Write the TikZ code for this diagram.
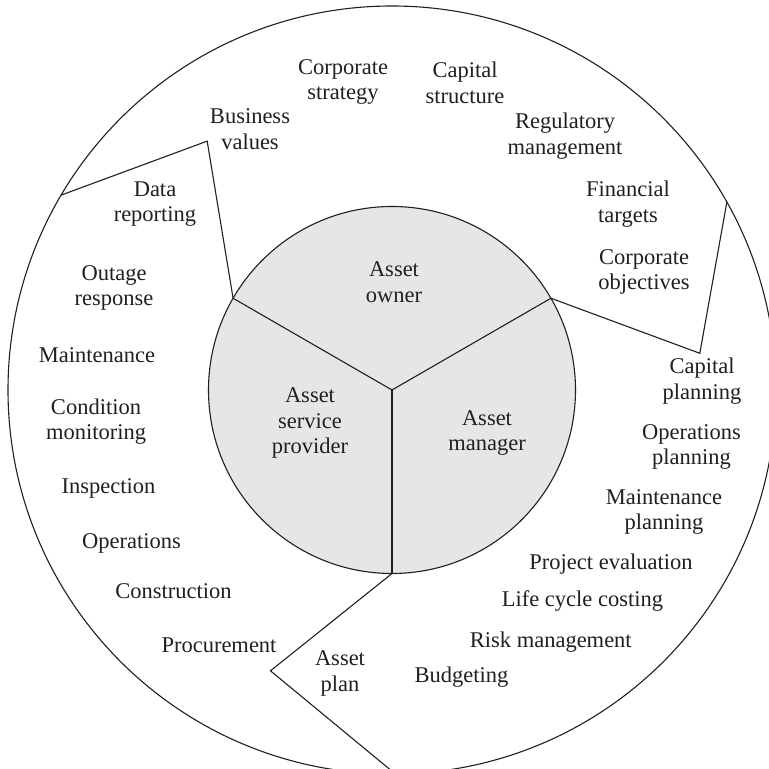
\documentclass[tikz,border=0pt]{standalone}
\usepackage{fontspec}
\setmainfont{Liberation Serif}
\usetikzlibrary{calc}
\definecolor{innergray}{RGB}{229,230,232}
\definecolor{ink}{RGB}{35,31,32}
\begin{document}
\begin{tikzpicture}[x=1pt,y=1pt,
  line width=1.1pt, draw=ink,
  lbl/.style={inner sep=0pt, align=center, text=ink,
    font=\fontsize{22.5}{25.5}\selectfont}]
\clip (0,0) rectangle (769,769);
\fill[white] (0,0) rectangle (769,769);
\coordinate (c) at (392,379);
% outer circle
\draw (c) circle[radius=384];
% inner circle
\filldraw[fill=innergray] (c) circle[radius=183.5];
% spoke ends
\coordinate (s1) at ($(c)+(150:183.5)$);
\coordinate (s2) at ($(c)+(30:183.5)$);
\coordinate (s3) at ($(c)+(270:183.5)$);
% spokes
\draw (c) -- (s1);
\draw (c) -- (s2);
\draw (c) -- (s3);
% peaks and outer points
\coordinate (p1) at ($(c)+(126.6:310)$);
\coordinate (p2) at ($(c)+(6.8:310)$);
\coordinate (p3) at ($(c)+(246.6:306)$);
\coordinate (o1) at ($(c)+(149.5:384)$);
\coordinate (o2) at ($(c)+(29.3:384)$);
\coordinate (o3) at ($(c)+(270.5:384)$);
\draw[line join=miter] (s1) -- (p1) -- (o1);
\draw[line join=miter] (s2) -- (p2) -- (o2);
\draw[line join=miter] (s3) -- (p3) -- (o3);
% inner labels
\node[lbl] (own) at (394,487) {Asset\\owner};
\node[lbl] (asp) at (310,346) {Asset\\service\\provider};
\node[lbl] (am) at (487,336) {Asset\\manager};
% owner ring
\node[lbl] (cs) at (343,687) {Corporate\\strategy};
\node[lbl] (cap) at (465,686) {Capital\\structure};
\node[lbl] (bv) at (250,640) {Business\\values};
\node[lbl] (rm) at (565,633) {Regulatory\\management};
\node[lbl] (ft) at (628,565) {Financial\\targets};
\node[lbl] (co) at (644,497) {Corporate\\objectives};
% service provider ring
\node[lbl] (dr) at (155,565) {Data\\reporting};
\node[lbl] (or) at (114,481) {Outage\\response};
\node[lbl] (mt) at (97,414) {Maintenance};
\node[lbl] (cm) at (96,347.5) {Condition\\monitoring};
\node[lbl] (ins) at (108.6,280.5) {Inspection};
\node[lbl] (ops) at (131.4,226) {Operations};
\node[lbl] (con) at (173.4,178) {Construction};
\node[lbl] (pro) at (219,124) {Procurement};
% manager ring
\node[lbl] (cp) at (702,388) {Capital\\planning};
\node[lbl] (op) at (691.5,322) {Operations\\planning};
\node[lbl] (mp) at (664,257) {Maintenance\\planning};
\node[lbl] (pe) at (611,205) {Project evaluation};
\node[lbl] (lcc) at (582.4,167.7) {Life cycle costing};
\node[lbl] (risk) at (550.8,127) {Risk management};
\node[lbl] (ap) at (340,95.4) {Asset\\plan};
\node[lbl] (bud) at (461.5,92.2) {Budgeting};
\end{tikzpicture}
\end{document}
